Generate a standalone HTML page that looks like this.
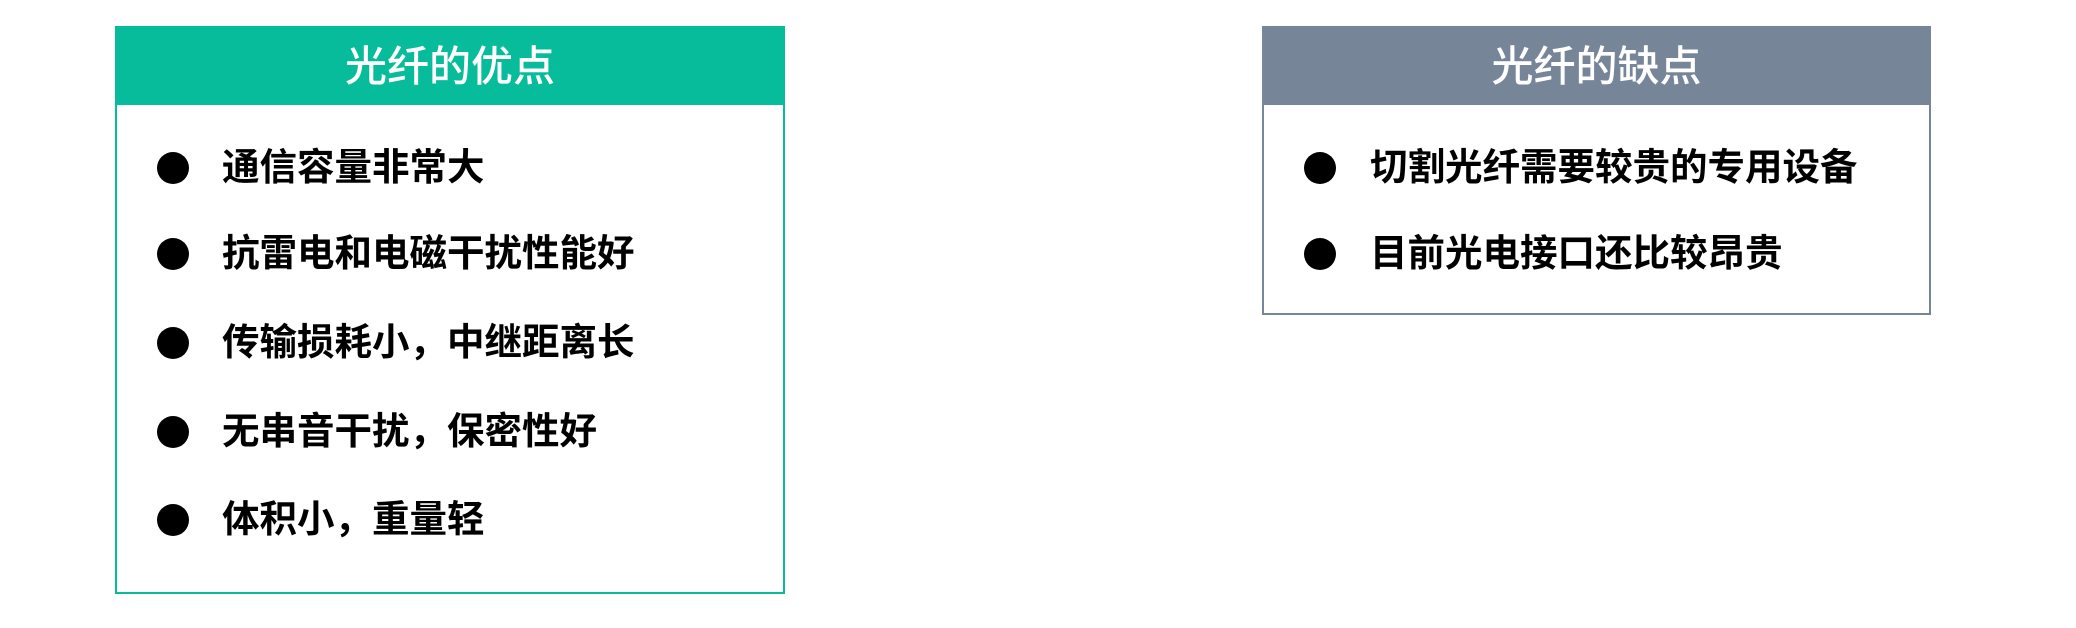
<!DOCTYPE html>
<html><head><meta charset="utf-8"><style>
body{margin:0;width:2076px;height:628px;background:#fff;position:relative;overflow:hidden;font-family:"Liberation Sans","Noto Sans CJK SC",sans-serif}
.box{position:absolute;box-sizing:border-box;border:2px solid}
.hdr{position:absolute;left:0;right:0;top:0;height:77px;color:#fff;font-size:42px;font-weight:500;text-align:center;line-height:77px}
.item{position:absolute;font-size:37.5px;font-weight:bold;color:#000;line-height:42px;white-space:nowrap}
.dot{position:absolute;width:32px;height:32px;border-radius:50%;background:#000}
</style></head><body>
<div class="box" style="left:115px;top:26px;width:670px;height:568px;border-color:#07bc9a">
 <div class="hdr" style="background:#07bc9a">光纤的优点</div>
</div>
<div class="box" style="left:1262px;top:26px;width:669px;height:289px;border-color:#778599">
 <div class="hdr" style="background:#778599">光纤的缺点</div>
</div>
<script>
const advItems=["通信容量非常大","抗雷电和电磁干扰性能好","传输损耗小，中继距离长","无串音干扰，保密性好","体积小，重量轻"];
const disItems=["切割光纤需要较贵的专用设备","目前光电接口还比较昂贵"];
const advY=[168,254,343,432,520];
const disY=[168,254];
function add(list,ys,dx,tx,prefix){
 list.forEach((t,i)=>{
  const d=document.createElement('div');d.className='dot';
  d.style.left=(dx-16)+'px';d.style.top=(ys[i]-16)+'px';
  
  
  document.body.appendChild(d);
  const s=document.createElement('div');s.className='item';s.textContent=t;
  s.style.left=tx+'px';s.style.top=(ys[i]-22)+'px';
  
  
  document.body.appendChild(s);
 });
}
add(advItems,advY,173,222,'advantage');
add(disItems,disY,1320,1370,'disadvantage');
</script>
</body></html>
